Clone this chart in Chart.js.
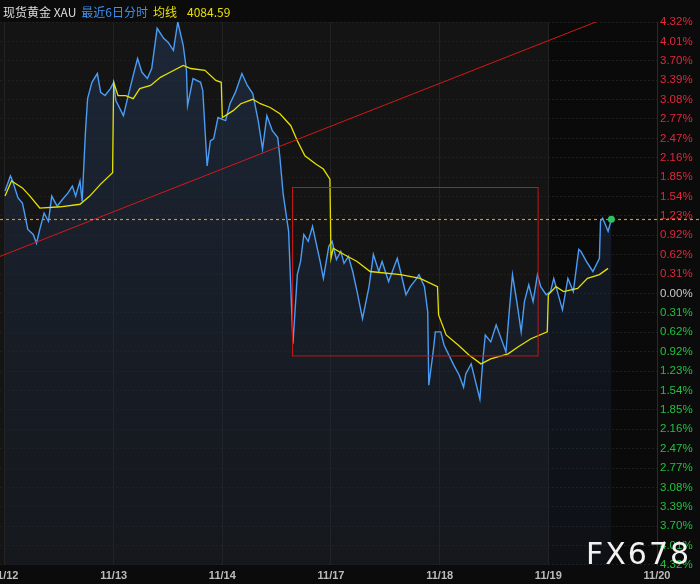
<!DOCTYPE html>
<html><head><meta charset="utf-8">
<script src="https://cdn.jsdelivr.net/npm/chart.js@4"></script>
<style>
html,body{margin:0;padding:0;background:#0b0b0b;}
#wrap{position:relative;width:700px;height:584px;}
#hdr{position:absolute;left:3px;top:3px;font:12px "Noto Sans CJK SC","Noto Sans",sans-serif;color:#ddd;white-space:nowrap;}
#hdr .b{color:#3d8ff0;margin-left:5px}
#hdr .y{color:#e8e000;margin-left:5px}
#wm{position:absolute;left:586px;top:536px;font:30px "DejaVu Sans",sans-serif;color:#f2f2f2;letter-spacing:2px;}
</style></head><body>
<div id="wrap"><canvas id="c" width="700" height="584"></canvas>
<div id="hdr">现货黄金 XAU<span class="b">最近6日分时</span><span class="y">均线</span><span class="y" style="margin-left:10px">4084.59</span></div>
<div id="wm">FX678</div></div>
<script>
const dayLabels=['11/12','11/13','11/14','11/17','11/18','11/19','11/20'];
const yTickLabels=['4.32%','4.01%','3.70%','3.39%','3.08%','2.77%','2.47%','2.16%','1.85%','1.54%','1.23%','0.92%','0.62%','0.31%','0.00%','0.31%','0.62%','0.92%','1.23%','1.54%','1.85%','2.16%','2.47%','2.77%','3.08%','3.39%','3.70%','4.01%','4.32%'];
const priceX=[0,.05,.07,.12,.16,.18,.21,.26,.29,.32,.36,.40,.43,.48,.53,.58,.62,.65,.69,.71,.74,.76,.80,.85,.88,.92,.97,1.00,1.02,1.09,1.13,1.18,1.22,1.26,1.31,1.35,1.40,1.46,1.50,1.55,1.59,1.64,1.67,1.68,1.73,1.80,1.82,1.86,1.89,1.92,1.96,2.03,2.07,2.12,2.18,2.23,2.28,2.33,2.37,2.41,2.46,2.51,2.53,2.56,2.61,2.65,2.69,2.72,2.75,2.79,2.83,2.87,2.90,2.93,2.98,3.01,3.05,3.09,3.12,3.16,3.20,3.24,3.29,3.35,3.39,3.44,3.47,3.53,3.61,3.64,3.69,3.73,3.78,3.81,3.86,3.89,3.90,3.94,3.96,4.01,4.04,4.13,4.18,4.22,4.24,4.29,4.32,4.37,4.40,4.42,4.47,4.52,4.56,4.61,4.64,4.67,4.71,4.75,4.78,4.82,4.86,4.90,4.93,4.98,5.02,5.05,5.13,5.18,5.23,5.28,5.30,5.35,5.41,5.47,5.48,5.50,5.55,5.58];
const priceY=[1.63,1.87,1.79,1.52,1.44,1.28,1.02,0.94,0.80,1.02,1.28,1.15,1.55,1.39,1.50,1.60,1.71,1.55,1.79,1.47,2.56,3.10,3.36,3.50,3.20,3.15,3.26,3.36,3.07,2.83,3.12,3.47,3.74,3.52,3.42,3.58,4.22,4.06,4.00,3.87,4.32,3.95,3.55,2.99,3.42,3.36,3.23,2.03,2.43,2.46,2.80,2.75,3.02,3.20,3.50,3.31,3.18,2.75,2.30,2.83,2.59,2.48,2.16,1.58,0.99,-0.80,0.30,0.51,0.94,0.83,1.07,0.75,0.51,0.24,0.75,0.83,0.54,0.67,0.48,0.59,0.35,0.03,-0.40,0.11,0.62,0.35,0.51,0.19,0.56,0.35,-0.02,0.11,0.22,0.30,0.11,-0.29,-1.46,-0.93,-0.61,-0.61,-0.82,-1.14,-1.30,-1.49,-1.28,-1.12,-1.33,-1.68,-1.01,-0.66,-0.77,-0.50,-0.69,-0.93,-0.29,0.30,-0.13,-0.61,-0.13,0.14,-0.13,0.30,0.11,-0.02,0.03,0.24,-0.26,0.24,0.03,0.70,0.67,0.51,0.35,0.56,1.15,1.20,0.99,1.18];
const maX=[0,.06,.16,.23,.32,.51,.69,.78,.88,.99,1.00,1.04,1.11,1.18,1.24,1.34,1.43,1.52,1.64,1.71,1.84,1.94,1.99,2.00,2.10,2.17,2.28,2.35,2.44,2.53,2.63,2.69,2.76,2.86,2.93,2.99,3.00,3.02,3.12,3.24,3.36,3.64,3.82,3.98,3.99,4.06,4.17,4.27,4.38,4.47,4.63,4.72,4.84,4.99,5.00,5.07,5.14,5.27,5.36,5.47,5.55];
const maY=[1.55,1.79,1.68,1.55,1.36,1.38,1.42,1.55,1.74,1.92,3.36,3.15,3.15,3.10,3.26,3.31,3.44,3.52,3.63,3.58,3.55,3.39,3.36,2.80,2.91,3.02,3.09,3.02,2.96,2.86,2.67,2.43,2.19,2.06,1.98,1.82,0.56,0.72,0.62,0.51,0.35,0.30,0.24,0.11,-0.34,-0.66,-0.82,-0.98,-1.12,-1.04,-0.96,-0.85,-0.72,-0.61,-0.02,0.11,0.03,0.08,0.24,0.30,0.40];
const trendX=[-0.046,5.48], trendY=[0.59,4.35];
const boxX=[2.64,4.90], boxY=[-0.98,1.70];
const lastPct=1.18;
const pts=(xs,ys)=>xs.map((x,i)=>({x:x,y:ys[i]}));
const bgPlugin={id:'bg',beforeDraw(ch){const {ctx,chartArea:a,scales:{x}}=ch;ctx.save();ctx.fillStyle='#0b0b0b';ctx.fillRect(0,0,700,584);ctx.fillStyle='#141414';ctx.fillRect(a.left,a.top,x.getPixelForValue(5)-a.left,a.bottom-a.top);ctx.fillStyle='#0a0a0a';ctx.fillRect(x.getPixelForValue(5),a.top,a.right-x.getPixelForValue(5),a.bottom-a.top);ctx.restore();},
afterDatasetsDraw(ch){const {ctx,chartArea:a,scales:{x,y}}=ch;ctx.save();
ctx.strokeStyle='#c01818';ctx.lineWidth=1;const x0=x.getPixelForValue(boxX[0]),x1=x.getPixelForValue(boxX[1]),y0=y.getPixelForValue(boxY[1]),y1=y.getPixelForValue(boxY[0]);ctx.strokeRect(Math.round(x0)+.5,Math.round(y0)+.5,x1-x0,y1-y0);
ctx.strokeStyle='#e08a20';ctx.lineWidth=1.2;ctx.setLineDash([3,3]);const py=Math.round(y.getPixelForValue(lastPct))+.5;ctx.beginPath();ctx.moveTo(a.left,py);ctx.lineTo(700,py);ctx.stroke();
ctx.setLineDash([]);ctx.fillStyle='#30c060';ctx.beginPath();ctx.arc(x.getPixelForValue(priceX[priceX.length-1]),y.getPixelForValue(priceY[priceY.length-1]),3.5,0,7);ctx.fill();ctx.restore();}};
new Chart(document.getElementById('c'),{type:'line',
data:{datasets:[
{data:pts(trendX,trendY),borderColor:'#d41818',borderWidth:1,pointRadius:0,fill:false,clip:true},
{data:pts(maX,maY),borderColor:'#e6e000',borderWidth:1.3,pointRadius:0,fill:false,tension:0},
{data:pts(priceX,priceY),borderColor:'#4a9cf5',borderWidth:1.4,pointRadius:0,tension:0,fill:'start',
 backgroundColor:(c)=>{const a=c.chart.chartArea;if(!a)return 'rgba(30,45,70,0.5)';const g=c.chart.ctx.createLinearGradient(0,a.top,0,a.bottom);g.addColorStop(0,'rgba(35,55,85,0.55)');g.addColorStop(1,'rgba(25,35,55,0.25)');return g;}}
]},
options:{responsive:false,animation:false,events:[],layout:{padding:{top:22,left:0,right:0,bottom:0}},
plugins:{legend:{display:false},tooltip:{enabled:false}},
scales:{
x:{type:'linear',min:-0.046,max:6.0,afterBuildTicks(s){s.ticks=dayLabels.map((_,i)=>({value:i}));},
 grid:{color:'#232323',drawTicks:false},border:{display:false},
 ticks:{autoSkip:false,maxRotation:0,padding:4,color:'#bbbbbb',font:{size:11,weight:'bold',family:'Liberation Sans'},callback:(v)=>dayLabels[v]},
 afterFit(s){s.height=19;s.paddingLeft=0;s.paddingRight=0;}},
y:{position:'right',min:-4.32,max:4.32,afterBuildTicks(s){s.ticks=yTickLabels.map((_,i)=>({value:4.32-i*0.30857}));},
 grid:{color:'#1f1f1f',drawTicks:false},border:{display:true,color:'#2a2a2a',dash:[2,2]},
 ticks:{autoSkip:false,padding:3,font:{size:11.5,family:'Liberation Sans'},
  color:(c)=>{const v=c.tick.value;return Math.abs(v)<0.01?'#c8c8c8':(v>0?'#e0283a':'#22c040');},
  callback:(v,i)=>yTickLabels[i]},
 afterFit(s){s.width=43;s.paddingTop=0;s.paddingBottom=0;}}
}},plugins:[bgPlugin]});
</script></body></html>
